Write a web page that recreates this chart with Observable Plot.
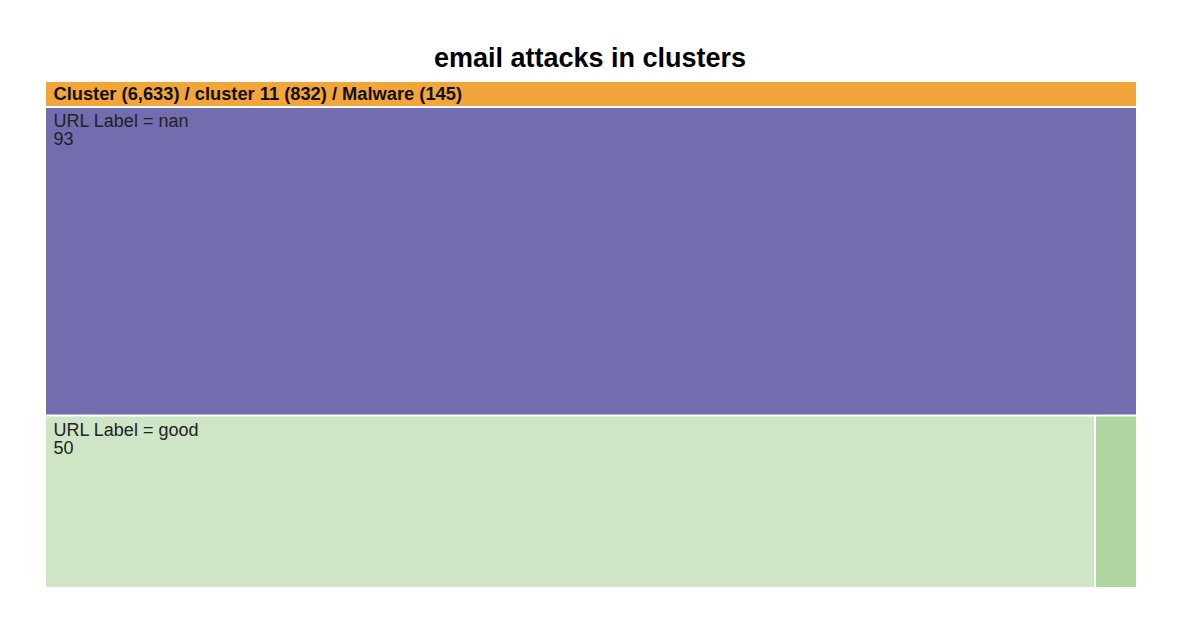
<!DOCTYPE html>
<html>
<head>
<meta charset="utf-8">
<script src="https://cdn.jsdelivr.net/npm/d3@7"></script>
<script src="https://cdn.jsdelivr.net/npm/@observablehq/plot@0.6"></script>
<style>
  body { margin: 0; background: #fff; font-family: "Liberation Sans", Arial, Helvetica, sans-serif; }
  #title { height: 82px; box-sizing: border-box; padding-top: 42px; line-height: 32px; text-align: center; font-size: 27px; font-weight: bold; color: #000; }
</style>
</head>
<body>
<div id="title">email attacks in clusters</div>
<div id="chart"></div>
<script>
// ---- data ----
const titleText = "email attacks in clusters";
const rootName = "Cluster";
const rootTotal = 6633;
const clusterName = "cluster 11";
const clusterTotal = 832;
const categoryName = "Malware";
const urlLabels = ["nan", "good", "other"];
const urlCounts = [93, 50, 2];
const urlColors = ["#736cae", "#cee6c5", "#afd5a0"];
const headerColor = "#f2a53a";

// ---- layout ----
const W = 1180, H = 548;
const left = 46, areaW = 1090, areaH = 505;
const fmt = d3.format(",");

const tree = {
  name: rootName,
  children: [{
    name: categoryName,
    children: [
      {name: urlLabels[0], value: urlCounts[0], color: urlColors[0]},
      {name: "_rest", children: [
        {name: urlLabels[1], value: urlCounts[1], color: urlColors[1]},
        {name: urlLabels[2], value: urlCounts[2], color: urlColors[2]}
      ]}
    ]
  }]
};
const root = d3.hierarchy(tree).sum(d => d.value || 0);
d3.treemap()
  .tile(d3.treemapSliceDice)
  .size([areaW, areaH])
  .paddingTop(d => d.depth === 1 ? 26 : 0)
  .paddingInner(2)(root);

const catNode = root.children[0];
const header = [{
  x1: left + catNode.x0, x2: left + catNode.x1,
  y1: catNode.y0, y2: catNode.y0 + 24,
  label: `${rootName} (${fmt(rootTotal)}) / ${clusterName} (${fmt(clusterTotal)}) / ${categoryName} (${fmt(catNode.value)})`
}];
const leaves = root.leaves().map(n => ({
  x1: left + n.x0, x2: left + n.x1, y1: n.y0, y2: n.y1,
  color: n.data.color,
  label: `URL Label = ${n.data.name}\n${fmt(n.value)}`,
  show: (n.x1 - n.x0) > 150
}));

const plot = Plot.plot({
  width: W, height: H,
  margin: 0,
  x: {type: "identity", axis: null},
  y: {type: "identity", axis: null},
  style: {fontFamily: "'Liberation Sans', Arial, Helvetica, sans-serif", background: "#fff"},
  marks: [
    Plot.rect(header, {x1: "x1", x2: "x2", y1: "y1", y2: "y2", fill: headerColor}),
    Plot.rect(leaves, {x1: "x1", x2: "x2", y1: "y1", y2: "y2", fill: d => d.color}),
    Plot.text(header, {x: d => d.x1 + 7, y: d => (d.y1 + d.y2) / 2, text: "label", textAnchor: "start", lineAnchor: "middle", fontSize: 18.3, fontWeight: "bold", fill: "#111"}),
    Plot.text(leaves.filter(d => d.show), {x: d => d.x1 + 7, y: d => d.y1 + 6, text: "label", textAnchor: "start", lineAnchor: "top", fontSize: 18, lineHeight: 1.0, fill: "#222"})
  ]
});
document.getElementById("chart").appendChild(plot);
</script>
</body>
</html>
